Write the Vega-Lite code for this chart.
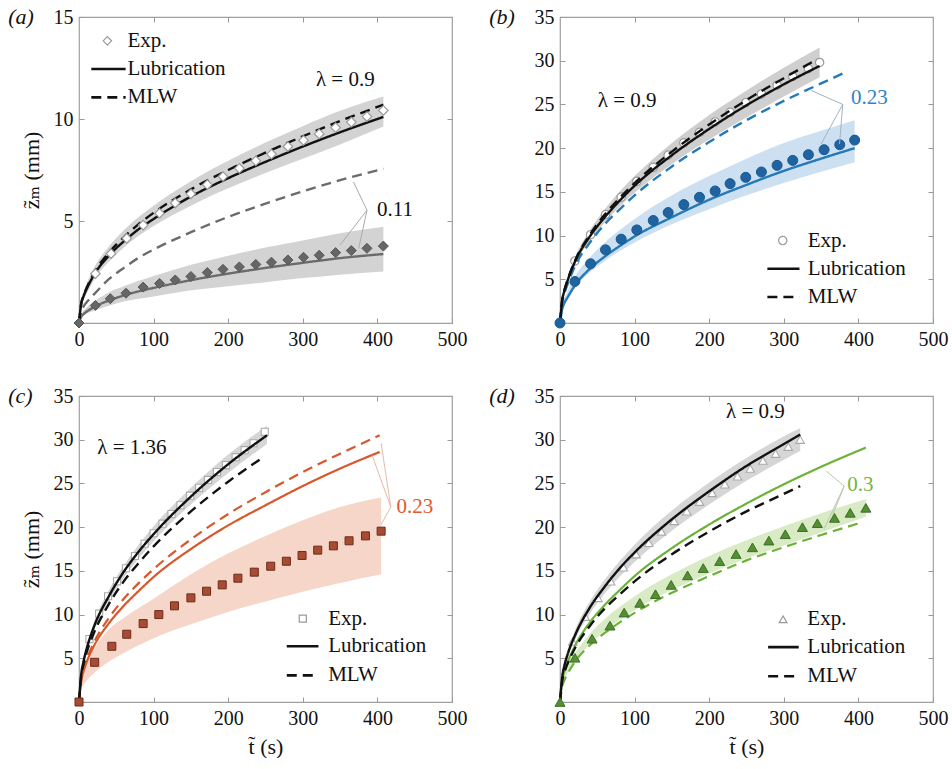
{
"$schema":"https://vega.github.io/schema/vega-lite/v6.json",
"autosize":{"type":"pad"},
"padding":{"left":7,"top":5,"right":0,"bottom":0},
"background":"white",
"columns":2,
"spacing":{"row":73,"column":108},
"bounds":"flush",
"config":{
 "view":{"stroke":"#a0a0a0","strokeWidth":1.2},
 "font":"Times New Roman, Liberation Serif, DejaVu Serif, Times, serif",
 "axis":{"domain":false,"grid":false,"ticks":true,"tickSize":-5,"tickColor":"#999","tickWidth":1,"labelFont":"Times New Roman, Liberation Serif, DejaVu Serif, Times, serif","labelFontSize":20,"labelColor":"#111","labelPadding":11,"labelFlush":false,"labelOverlap":false,"titleFont":"Times New Roman, Liberation Serif, DejaVu Serif, Times, serif","titleFontSize":22,"titleFontWeight":"normal","titleColor":"#111"},
 "text":{"font":"Times New Roman, Liberation Serif, DejaVu Serif, Times, serif","fontSize":21},
 "line":{"interpolate":"monotone"},
 "area":{"interpolate":"monotone"}
},
"datasets":{
"ln":[
{"p":"a","l":"0.9","m":"Lub","t":0,"z":0},{"p":"a","l":"0.9","m":"Lub","t":3,"z":0.95},{"p":"a","l":"0.9","m":"Lub","t":6,"z":1.3},{"p":"a","l":"0.9","m":"Lub","t":10,"z":1.65},{"p":"a","l":"0.9","m":"Lub","t":20,"z":2.35},{"p":"a","l":"0.9","m":"Lub","t":40,"z":3.3},{"p":"a","l":"0.9","m":"Lub","t":60,"z":4.0},{"p":"a","l":"0.9","m":"Lub","t":80,"z":4.6},{"p":"a","l":"0.9","m":"Lub","t":100,"z":5.1},{"p":"a","l":"0.9","m":"Lub","t":150,"z":6.2},{"p":"a","l":"0.9","m":"Lub","t":200,"z":7.1},{"p":"a","l":"0.9","m":"Lub","t":250,"z":7.9},{"p":"a","l":"0.9","m":"Lub","t":300,"z":8.65},{"p":"a","l":"0.9","m":"Lub","t":350,"z":9.35},{"p":"a","l":"0.9","m":"Lub","t":408,"z":10.1},
{"p":"a","l":"0.9","m":"MLW","t":0,"z":0},{"p":"a","l":"0.9","m":"MLW","t":3,"z":0.95},{"p":"a","l":"0.9","m":"MLW","t":6,"z":1.32},{"p":"a","l":"0.9","m":"MLW","t":10,"z":1.7},{"p":"a","l":"0.9","m":"MLW","t":20,"z":2.45},{"p":"a","l":"0.9","m":"MLW","t":40,"z":3.45},{"p":"a","l":"0.9","m":"MLW","t":60,"z":4.2},{"p":"a","l":"0.9","m":"MLW","t":80,"z":4.85},{"p":"a","l":"0.9","m":"MLW","t":100,"z":5.4},{"p":"a","l":"0.9","m":"MLW","t":150,"z":6.55},{"p":"a","l":"0.9","m":"MLW","t":200,"z":7.5},{"p":"a","l":"0.9","m":"MLW","t":250,"z":8.35},{"p":"a","l":"0.9","m":"MLW","t":300,"z":9.15},{"p":"a","l":"0.9","m":"MLW","t":350,"z":9.9},{"p":"a","l":"0.9","m":"MLW","t":408,"z":10.7},
{"p":"a","l":"0.11","m":"Lub","t":0,"z":0},{"p":"a","l":"0.11","m":"Lub","t":3,"z":0.3},{"p":"a","l":"0.11","m":"Lub","t":6,"z":0.43},{"p":"a","l":"0.11","m":"Lub","t":10,"z":0.55},{"p":"a","l":"0.11","m":"Lub","t":20,"z":0.78},{"p":"a","l":"0.11","m":"Lub","t":40,"z":1.1},{"p":"a","l":"0.11","m":"Lub","t":60,"z":1.35},{"p":"a","l":"0.11","m":"Lub","t":80,"z":1.55},{"p":"a","l":"0.11","m":"Lub","t":100,"z":1.72},{"p":"a","l":"0.11","m":"Lub","t":150,"z":2.1},{"p":"a","l":"0.11","m":"Lub","t":200,"z":2.42},{"p":"a","l":"0.11","m":"Lub","t":250,"z":2.7},{"p":"a","l":"0.11","m":"Lub","t":300,"z":2.95},{"p":"a","l":"0.11","m":"Lub","t":350,"z":3.18},{"p":"a","l":"0.11","m":"Lub","t":408,"z":3.38},
{"p":"a","l":"0.11","m":"MLW","t":0,"z":0},{"p":"a","l":"0.11","m":"MLW","t":3,"z":0.55},{"p":"a","l":"0.11","m":"MLW","t":6,"z":0.8},{"p":"a","l":"0.11","m":"MLW","t":10,"z":1.0},{"p":"a","l":"0.11","m":"MLW","t":20,"z":1.4},{"p":"a","l":"0.11","m":"MLW","t":40,"z":2.15},{"p":"a","l":"0.11","m":"MLW","t":60,"z":2.7},{"p":"a","l":"0.11","m":"MLW","t":80,"z":3.2},{"p":"a","l":"0.11","m":"MLW","t":100,"z":3.6},{"p":"a","l":"0.11","m":"MLW","t":150,"z":4.45},{"p":"a","l":"0.11","m":"MLW","t":200,"z":5.2},{"p":"a","l":"0.11","m":"MLW","t":250,"z":5.85},{"p":"a","l":"0.11","m":"MLW","t":300,"z":6.45},{"p":"a","l":"0.11","m":"MLW","t":350,"z":7.0},{"p":"a","l":"0.11","m":"MLW","t":408,"z":7.56},
{"p":"b","l":"0.9","m":"Lub","t":0,"z":0},{"p":"b","l":"0.9","m":"Lub","t":3,"z":2.6},{"p":"b","l":"0.9","m":"Lub","t":6,"z":3.7},{"p":"b","l":"0.9","m":"Lub","t":10,"z":4.8},{"p":"b","l":"0.9","m":"Lub","t":20,"z":7.0},{"p":"b","l":"0.9","m":"Lub","t":40,"z":9.9},{"p":"b","l":"0.9","m":"Lub","t":60,"z":12.1},{"p":"b","l":"0.9","m":"Lub","t":80,"z":14.0},{"p":"b","l":"0.9","m":"Lub","t":100,"z":15.7},{"p":"b","l":"0.9","m":"Lub","t":150,"z":19.2},{"p":"b","l":"0.9","m":"Lub","t":200,"z":22.2},{"p":"b","l":"0.9","m":"Lub","t":250,"z":24.9},{"p":"b","l":"0.9","m":"Lub","t":300,"z":27.3},{"p":"b","l":"0.9","m":"Lub","t":348,"z":29.4},
{"p":"b","l":"0.9","m":"MLW","t":0,"z":0},{"p":"b","l":"0.9","m":"MLW","t":3,"z":2.7},{"p":"b","l":"0.9","m":"MLW","t":6,"z":3.8},{"p":"b","l":"0.9","m":"MLW","t":10,"z":4.9},{"p":"b","l":"0.9","m":"MLW","t":20,"z":7.1},{"p":"b","l":"0.9","m":"MLW","t":40,"z":10.1},{"p":"b","l":"0.9","m":"MLW","t":60,"z":12.4},{"p":"b","l":"0.9","m":"MLW","t":80,"z":14.3},{"p":"b","l":"0.9","m":"MLW","t":100,"z":16.0},{"p":"b","l":"0.9","m":"MLW","t":150,"z":19.6},{"p":"b","l":"0.9","m":"MLW","t":200,"z":22.7},{"p":"b","l":"0.9","m":"MLW","t":250,"z":25.5},{"p":"b","l":"0.9","m":"MLW","t":300,"z":28.0},{"p":"b","l":"0.9","m":"MLW","t":341,"z":30.0},
{"p":"b","l":"0.23","m":"Lub","t":0,"z":0},{"p":"b","l":"0.23","m":"Lub","t":3,"z":1.6},{"p":"b","l":"0.23","m":"Lub","t":6,"z":2.3},{"p":"b","l":"0.23","m":"Lub","t":10,"z":2.9},{"p":"b","l":"0.23","m":"Lub","t":20,"z":4.3},{"p":"b","l":"0.23","m":"Lub","t":40,"z":6.2},{"p":"b","l":"0.23","m":"Lub","t":60,"z":7.6},{"p":"b","l":"0.23","m":"Lub","t":80,"z":8.8},{"p":"b","l":"0.23","m":"Lub","t":100,"z":9.9},{"p":"b","l":"0.23","m":"Lub","t":150,"z":12.1},{"p":"b","l":"0.23","m":"Lub","t":200,"z":14.1},{"p":"b","l":"0.23","m":"Lub","t":250,"z":15.8},{"p":"b","l":"0.23","m":"Lub","t":300,"z":17.4},{"p":"b","l":"0.23","m":"Lub","t":350,"z":18.8},{"p":"b","l":"0.23","m":"Lub","t":395,"z":20.0},
{"p":"b","l":"0.23","m":"MLW","t":0,"z":0},{"p":"b","l":"0.23","m":"MLW","t":3,"z":2.4},{"p":"b","l":"0.23","m":"MLW","t":6,"z":3.4},{"p":"b","l":"0.23","m":"MLW","t":10,"z":4.4},{"p":"b","l":"0.23","m":"MLW","t":20,"z":6.5},{"p":"b","l":"0.23","m":"MLW","t":40,"z":9.2},{"p":"b","l":"0.23","m":"MLW","t":60,"z":11.3},{"p":"b","l":"0.23","m":"MLW","t":80,"z":13.0},{"p":"b","l":"0.23","m":"MLW","t":100,"z":14.6},{"p":"b","l":"0.23","m":"MLW","t":150,"z":17.9},{"p":"b","l":"0.23","m":"MLW","t":200,"z":20.7},{"p":"b","l":"0.23","m":"MLW","t":250,"z":23.2},{"p":"b","l":"0.23","m":"MLW","t":300,"z":25.4},{"p":"b","l":"0.23","m":"MLW","t":350,"z":27.4},{"p":"b","l":"0.23","m":"MLW","t":386,"z":28.8},
{"p":"c","l":"1.36","m":"Lub","t":0,"z":0},{"p":"c","l":"1.36","m":"Lub","t":3,"z":3.2},{"p":"c","l":"1.36","m":"Lub","t":6,"z":4.6},{"p":"c","l":"1.36","m":"Lub","t":10,"z":6.0},{"p":"c","l":"1.36","m":"Lub","t":20,"z":8.6},{"p":"c","l":"1.36","m":"Lub","t":40,"z":12.1},{"p":"c","l":"1.36","m":"Lub","t":60,"z":14.9},{"p":"c","l":"1.36","m":"Lub","t":80,"z":17.2},{"p":"c","l":"1.36","m":"Lub","t":100,"z":19.2},{"p":"c","l":"1.36","m":"Lub","t":150,"z":23.5},{"p":"c","l":"1.36","m":"Lub","t":200,"z":27.2},{"p":"c","l":"1.36","m":"Lub","t":252,"z":30.5},
{"p":"c","l":"1.36","m":"MLW","t":0,"z":0},{"p":"c","l":"1.36","m":"MLW","t":3,"z":3.0},{"p":"c","l":"1.36","m":"MLW","t":6,"z":4.3},{"p":"c","l":"1.36","m":"MLW","t":10,"z":5.6},{"p":"c","l":"1.36","m":"MLW","t":20,"z":7.9},{"p":"c","l":"1.36","m":"MLW","t":40,"z":11.2},{"p":"c","l":"1.36","m":"MLW","t":60,"z":13.8},{"p":"c","l":"1.36","m":"MLW","t":80,"z":15.9},{"p":"c","l":"1.36","m":"MLW","t":100,"z":17.8},{"p":"c","l":"1.36","m":"MLW","t":150,"z":21.8},{"p":"c","l":"1.36","m":"MLW","t":200,"z":25.2},{"p":"c","l":"1.36","m":"MLW","t":247,"z":28.0},
{"p":"c","l":"0.23","m":"Lub","t":0,"z":0},{"p":"c","l":"0.23","m":"Lub","t":3,"z":2.4},{"p":"c","l":"0.23","m":"Lub","t":6,"z":3.5},{"p":"c","l":"0.23","m":"Lub","t":10,"z":4.5},{"p":"c","l":"0.23","m":"Lub","t":20,"z":6.4},{"p":"c","l":"0.23","m":"Lub","t":40,"z":9.0},{"p":"c","l":"0.23","m":"Lub","t":60,"z":11.0},{"p":"c","l":"0.23","m":"Lub","t":80,"z":12.7},{"p":"c","l":"0.23","m":"Lub","t":100,"z":14.3},{"p":"c","l":"0.23","m":"Lub","t":150,"z":17.5},{"p":"c","l":"0.23","m":"Lub","t":200,"z":20.2},{"p":"c","l":"0.23","m":"Lub","t":250,"z":22.5},{"p":"c","l":"0.23","m":"Lub","t":300,"z":24.7},{"p":"c","l":"0.23","m":"Lub","t":350,"z":26.7},{"p":"c","l":"0.23","m":"Lub","t":403,"z":28.6},
{"p":"c","l":"0.23","m":"MLW","t":0,"z":0},{"p":"c","l":"0.23","m":"MLW","t":3,"z":2.6},{"p":"c","l":"0.23","m":"MLW","t":6,"z":3.7},{"p":"c","l":"0.23","m":"MLW","t":10,"z":4.8},{"p":"c","l":"0.23","m":"MLW","t":20,"z":6.8},{"p":"c","l":"0.23","m":"MLW","t":40,"z":9.6},{"p":"c","l":"0.23","m":"MLW","t":60,"z":11.8},{"p":"c","l":"0.23","m":"MLW","t":80,"z":13.6},{"p":"c","l":"0.23","m":"MLW","t":100,"z":15.2},{"p":"c","l":"0.23","m":"MLW","t":150,"z":18.6},{"p":"c","l":"0.23","m":"MLW","t":200,"z":21.5},{"p":"c","l":"0.23","m":"MLW","t":250,"z":24.0},{"p":"c","l":"0.23","m":"MLW","t":300,"z":26.3},{"p":"c","l":"0.23","m":"MLW","t":350,"z":28.4},{"p":"c","l":"0.23","m":"MLW","t":403,"z":30.5},
{"p":"d","l":"0.9","m":"Lub","t":0,"z":0},{"p":"d","l":"0.9","m":"Lub","t":3,"z":2.9},{"p":"d","l":"0.9","m":"Lub","t":6,"z":4.2},{"p":"d","l":"0.9","m":"Lub","t":10,"z":5.4},{"p":"d","l":"0.9","m":"Lub","t":20,"z":7.6},{"p":"d","l":"0.9","m":"Lub","t":40,"z":10.8},{"p":"d","l":"0.9","m":"Lub","t":60,"z":13.2},{"p":"d","l":"0.9","m":"Lub","t":80,"z":15.3},{"p":"d","l":"0.9","m":"Lub","t":100,"z":17.1},{"p":"d","l":"0.9","m":"Lub","t":150,"z":20.9},{"p":"d","l":"0.9","m":"Lub","t":200,"z":24.1},{"p":"d","l":"0.9","m":"Lub","t":250,"z":27.0},{"p":"d","l":"0.9","m":"Lub","t":300,"z":29.5},{"p":"d","l":"0.9","m":"Lub","t":322,"z":30.6},
{"p":"d","l":"0.9","m":"MLW","t":0,"z":0},{"p":"d","l":"0.9","m":"MLW","t":3,"z":2.4},{"p":"d","l":"0.9","m":"MLW","t":6,"z":3.4},{"p":"d","l":"0.9","m":"MLW","t":10,"z":4.35},{"p":"d","l":"0.9","m":"MLW","t":20,"z":6.15},{"p":"d","l":"0.9","m":"MLW","t":40,"z":8.7},{"p":"d","l":"0.9","m":"MLW","t":60,"z":10.7},{"p":"d","l":"0.9","m":"MLW","t":80,"z":12.3},{"p":"d","l":"0.9","m":"MLW","t":100,"z":13.8},{"p":"d","l":"0.9","m":"MLW","t":150,"z":16.9},{"p":"d","l":"0.9","m":"MLW","t":200,"z":19.5},{"p":"d","l":"0.9","m":"MLW","t":250,"z":21.8},{"p":"d","l":"0.9","m":"MLW","t":300,"z":23.8},{"p":"d","l":"0.9","m":"MLW","t":322,"z":24.7},
{"p":"d","l":"0.3","m":"Lub","t":0,"z":0},{"p":"d","l":"0.3","m":"Lub","t":3,"z":2.5},{"p":"d","l":"0.3","m":"Lub","t":6,"z":3.5},{"p":"d","l":"0.3","m":"Lub","t":10,"z":4.5},{"p":"d","l":"0.3","m":"Lub","t":20,"z":6.4},{"p":"d","l":"0.3","m":"Lub","t":40,"z":9.1},{"p":"d","l":"0.3","m":"Lub","t":60,"z":11.1},{"p":"d","l":"0.3","m":"Lub","t":80,"z":12.8},{"p":"d","l":"0.3","m":"Lub","t":100,"z":14.4},{"p":"d","l":"0.3","m":"Lub","t":150,"z":17.6},{"p":"d","l":"0.3","m":"Lub","t":200,"z":20.3},{"p":"d","l":"0.3","m":"Lub","t":250,"z":22.7},{"p":"d","l":"0.3","m":"Lub","t":300,"z":24.9},{"p":"d","l":"0.3","m":"Lub","t":350,"z":26.9},{"p":"d","l":"0.3","m":"Lub","t":410,"z":29.1},
{"p":"d","l":"0.3","m":"MLW","t":0,"z":0},{"p":"d","l":"0.3","m":"MLW","t":3,"z":1.8},{"p":"d","l":"0.3","m":"MLW","t":6,"z":2.5},{"p":"d","l":"0.3","m":"MLW","t":10,"z":3.2},{"p":"d","l":"0.3","m":"MLW","t":20,"z":4.6},{"p":"d","l":"0.3","m":"MLW","t":40,"z":6.5},{"p":"d","l":"0.3","m":"MLW","t":60,"z":7.9},{"p":"d","l":"0.3","m":"MLW","t":80,"z":9.1},{"p":"d","l":"0.3","m":"MLW","t":100,"z":10.2},{"p":"d","l":"0.3","m":"MLW","t":150,"z":12.5},{"p":"d","l":"0.3","m":"MLW","t":200,"z":14.4},{"p":"d","l":"0.3","m":"MLW","t":250,"z":16.2},{"p":"d","l":"0.3","m":"MLW","t":300,"z":17.7},{"p":"d","l":"0.3","m":"MLW","t":350,"z":19.1},{"p":"d","l":"0.3","m":"MLW","t":399,"z":20.4}
],
"bd":[
{"p":"a","l":"0.9","t":0,"lo":0,"hi":0},{"p":"a","l":"0.9","t":3,"lo":0.8,"hi":1.1},{"p":"a","l":"0.9","t":10,"lo":1.4,"hi":1.9},{"p":"a","l":"0.9","t":20,"lo":2.1,"hi":2.7},{"p":"a","l":"0.9","t":40,"lo":3.0,"hi":3.75},{"p":"a","l":"0.9","t":60,"lo":3.7,"hi":4.55},{"p":"a","l":"0.9","t":100,"lo":4.75,"hi":5.75},{"p":"a","l":"0.9","t":150,"lo":5.75,"hi":6.95},{"p":"a","l":"0.9","t":200,"lo":6.6,"hi":7.95},{"p":"a","l":"0.9","t":250,"lo":7.35,"hi":8.85},{"p":"a","l":"0.9","t":300,"lo":8.05,"hi":9.65},{"p":"a","l":"0.9","t":350,"lo":8.75,"hi":10.4},{"p":"a","l":"0.9","t":408,"lo":9.63,"hi":11.1},
{"p":"a","l":"0.11","t":0,"lo":0,"hi":0},{"p":"a","l":"0.11","t":3,"lo":0.25,"hi":0.4},{"p":"a","l":"0.11","t":10,"lo":0.45,"hi":0.75},{"p":"a","l":"0.11","t":20,"lo":0.6,"hi":1.05},{"p":"a","l":"0.11","t":40,"lo":0.85,"hi":1.5},{"p":"a","l":"0.11","t":60,"lo":1.05,"hi":1.8},{"p":"a","l":"0.11","t":100,"lo":1.3,"hi":2.3},{"p":"a","l":"0.11","t":150,"lo":1.6,"hi":2.85},{"p":"a","l":"0.11","t":200,"lo":1.8,"hi":3.3},{"p":"a","l":"0.11","t":250,"lo":2.0,"hi":3.7},{"p":"a","l":"0.11","t":300,"lo":2.2,"hi":4.05},{"p":"a","l":"0.11","t":350,"lo":2.37,"hi":4.4},{"p":"a","l":"0.11","t":408,"lo":2.52,"hi":4.72},
{"p":"b","l":"0.9","t":0,"lo":0,"hi":0},{"p":"b","l":"0.9","t":3,"lo":2.3,"hi":2.9},{"p":"b","l":"0.9","t":10,"lo":4.5,"hi":5.2},{"p":"b","l":"0.9","t":20,"lo":6.6,"hi":7.5},{"p":"b","l":"0.9","t":40,"lo":9.4,"hi":10.6},{"p":"b","l":"0.9","t":60,"lo":11.5,"hi":13.0},{"p":"b","l":"0.9","t":100,"lo":14.9,"hi":16.8},{"p":"b","l":"0.9","t":150,"lo":18.2,"hi":20.6},{"p":"b","l":"0.9","t":200,"lo":21.0,"hi":23.8},{"p":"b","l":"0.9","t":250,"lo":23.5,"hi":26.6},{"p":"b","l":"0.9","t":300,"lo":25.9,"hi":29.2},{"p":"b","l":"0.9","t":348,"lo":28.1,"hi":31.5},
{"p":"b","l":"0.23","t":0,"lo":0,"hi":0},{"p":"b","l":"0.23","t":3,"lo":1.4,"hi":1.9},{"p":"b","l":"0.23","t":10,"lo":2.7,"hi":3.6},{"p":"b","l":"0.23","t":20,"lo":4.0,"hi":5.3},{"p":"b","l":"0.23","t":40,"lo":5.8,"hi":7.5},{"p":"b","l":"0.23","t":60,"lo":7.1,"hi":9.2},{"p":"b","l":"0.23","t":100,"lo":9.2,"hi":11.9},{"p":"b","l":"0.23","t":150,"lo":11.3,"hi":14.6},{"p":"b","l":"0.23","t":200,"lo":13.0,"hi":16.8},{"p":"b","l":"0.23","t":250,"lo":14.6,"hi":18.8},{"p":"b","l":"0.23","t":300,"lo":16.0,"hi":20.6},{"p":"b","l":"0.23","t":350,"lo":17.3,"hi":22.0},{"p":"b","l":"0.23","t":395,"lo":18.4,"hi":23.2},
{"p":"c","l":"1.36","t":0,"lo":0,"hi":0},{"p":"c","l":"1.36","t":3,"lo":2.8,"hi":3.6},{"p":"c","l":"1.36","t":10,"lo":5.6,"hi":6.4},{"p":"c","l":"1.36","t":20,"lo":8.1,"hi":9.1},{"p":"c","l":"1.36","t":40,"lo":11.5,"hi":12.8},{"p":"c","l":"1.36","t":60,"lo":14.2,"hi":15.6},{"p":"c","l":"1.36","t":100,"lo":18.4,"hi":20.1},{"p":"c","l":"1.36","t":150,"lo":22.6,"hi":24.5},{"p":"c","l":"1.36","t":200,"lo":26.2,"hi":28.3},{"p":"c","l":"1.36","t":252,"lo":29.5,"hi":31.6},
{"p":"c","l":"0.23","t":0,"lo":0,"hi":0},{"p":"c","l":"0.23","t":3,"lo":1.4,"hi":2.4},{"p":"c","l":"0.23","t":10,"lo":2.4,"hi":4.3},{"p":"c","l":"0.23","t":20,"lo":3.3,"hi":6.0},{"p":"c","l":"0.23","t":40,"lo":4.6,"hi":8.3},{"p":"c","l":"0.23","t":60,"lo":5.6,"hi":9.6},{"p":"c","l":"0.23","t":100,"lo":7.3,"hi":11.8},{"p":"c","l":"0.23","t":150,"lo":8.9,"hi":14.6},{"p":"c","l":"0.23","t":200,"lo":10.3,"hi":17.0},{"p":"c","l":"0.23","t":250,"lo":11.5,"hi":19.0},{"p":"c","l":"0.23","t":300,"lo":12.6,"hi":20.8},{"p":"c","l":"0.23","t":350,"lo":13.6,"hi":22.3},{"p":"c","l":"0.23","t":405,"lo":14.6,"hi":23.4},
{"p":"d","l":"0.9","t":0,"lo":0,"hi":0},{"p":"d","l":"0.9","t":3,"lo":2.6,"hi":3.1},{"p":"d","l":"0.9","t":10,"lo":5.0,"hi":5.8},{"p":"d","l":"0.9","t":20,"lo":7.1,"hi":8.2},{"p":"d","l":"0.9","t":40,"lo":10.1,"hi":11.5},{"p":"d","l":"0.9","t":60,"lo":12.4,"hi":14.0},{"p":"d","l":"0.9","t":100,"lo":16.0,"hi":18.0},{"p":"d","l":"0.9","t":150,"lo":19.6,"hi":21.9},{"p":"d","l":"0.9","t":200,"lo":22.6,"hi":25.1},{"p":"d","l":"0.9","t":250,"lo":25.3,"hi":27.9},{"p":"d","l":"0.9","t":300,"lo":27.7,"hi":30.4},{"p":"d","l":"0.9","t":322,"lo":28.7,"hi":31.3},
{"p":"d","l":"0.3","t":0,"lo":0,"hi":0},{"p":"d","l":"0.3","t":3,"lo":1.9,"hi":2.6},{"p":"d","l":"0.3","t":10,"lo":3.3,"hi":4.4},{"p":"d","l":"0.3","t":20,"lo":4.6,"hi":5.6},{"p":"d","l":"0.3","t":40,"lo":6.6,"hi":7.8},{"p":"d","l":"0.3","t":60,"lo":8.1,"hi":9.5},{"p":"d","l":"0.3","t":100,"lo":10.5,"hi":12.1},{"p":"d","l":"0.3","t":150,"lo":12.8,"hi":14.6},{"p":"d","l":"0.3","t":200,"lo":14.7,"hi":16.7},{"p":"d","l":"0.3","t":250,"lo":16.4,"hi":18.5},{"p":"d","l":"0.3","t":300,"lo":17.9,"hi":20.1},{"p":"d","l":"0.3","t":350,"lo":19.4,"hi":21.6},{"p":"d","l":"0.3","t":410,"lo":21.2,"hi":23.2}
],
"pt":[
{"p":"a","l":"0.9","t":22,"z":2.42},{"p":"a","l":"0.9","t":43,"z":3.4},{"p":"a","l":"0.9","t":64,"z":4.15},{"p":"a","l":"0.9","t":86,"z":4.8},{"p":"a","l":"0.9","t":108,"z":5.38},{"p":"a","l":"0.9","t":129,"z":5.88},{"p":"a","l":"0.9","t":150,"z":6.33},{"p":"a","l":"0.9","t":172,"z":6.78},{"p":"a","l":"0.9","t":193,"z":7.18},{"p":"a","l":"0.9","t":215,"z":7.58},{"p":"a","l":"0.9","t":237,"z":7.95},{"p":"a","l":"0.9","t":258,"z":8.28},{"p":"a","l":"0.9","t":280,"z":8.65},{"p":"a","l":"0.9","t":301,"z":8.95},{"p":"a","l":"0.9","t":322,"z":9.27},{"p":"a","l":"0.9","t":344,"z":9.58},{"p":"a","l":"0.9","t":365,"z":9.85},{"p":"a","l":"0.9","t":386,"z":10.12},{"p":"a","l":"0.9","t":408,"z":10.42},
{"p":"a","l":"0.11","t":0,"z":0},{"p":"a","l":"0.11","t":22,"z":0.86},{"p":"a","l":"0.11","t":42,"z":1.19},{"p":"a","l":"0.11","t":63,"z":1.46},{"p":"a","l":"0.11","t":86,"z":1.76},{"p":"a","l":"0.11","t":108,"z":1.94},{"p":"a","l":"0.11","t":129,"z":2.11},{"p":"a","l":"0.11","t":150,"z":2.28},{"p":"a","l":"0.11","t":172,"z":2.47},{"p":"a","l":"0.11","t":193,"z":2.63},{"p":"a","l":"0.11","t":215,"z":2.75},{"p":"a","l":"0.11","t":237,"z":2.87},{"p":"a","l":"0.11","t":258,"z":2.98},{"p":"a","l":"0.11","t":280,"z":3.09},{"p":"a","l":"0.11","t":301,"z":3.22},{"p":"a","l":"0.11","t":322,"z":3.32},{"p":"a","l":"0.11","t":344,"z":3.45},{"p":"a","l":"0.11","t":365,"z":3.55},{"p":"a","l":"0.11","t":386,"z":3.66},{"p":"a","l":"0.11","t":408,"z":3.77},
{"p":"b","l":"0.9","t":20,"z":7.1},{"p":"b","l":"0.9","t":41,"z":10.1},{"p":"b","l":"0.9","t":61,"z":12.4},{"p":"b","l":"0.9","t":82,"z":14.4},{"p":"b","l":"0.9","t":103,"z":16.2},{"p":"b","l":"0.9","t":125,"z":17.8},{"p":"b","l":"0.9","t":145,"z":19.2},{"p":"b","l":"0.9","t":166,"z":20.6},{"p":"b","l":"0.9","t":187,"z":21.8},{"p":"b","l":"0.9","t":208,"z":23.0},{"p":"b","l":"0.9","t":228,"z":24.1},{"p":"b","l":"0.9","t":249,"z":25.2},{"p":"b","l":"0.9","t":270,"z":26.2},{"p":"b","l":"0.9","t":291,"z":27.2},{"p":"b","l":"0.9","t":312,"z":28.2},{"p":"b","l":"0.9","t":333,"z":29.1},{"p":"b","l":"0.9","t":348,"z":29.8},
{"p":"b","l":"0.23","t":0,"z":0},{"p":"b","l":"0.23","t":20,"z":4.75},{"p":"b","l":"0.23","t":41,"z":6.77},{"p":"b","l":"0.23","t":61,"z":8.37},{"p":"b","l":"0.23","t":82,"z":9.59},{"p":"b","l":"0.23","t":103,"z":10.65},{"p":"b","l":"0.23","t":125,"z":11.72},{"p":"b","l":"0.23","t":145,"z":12.63},{"p":"b","l":"0.23","t":166,"z":13.54},{"p":"b","l":"0.23","t":187,"z":14.38},{"p":"b","l":"0.23","t":208,"z":15.1},{"p":"b","l":"0.23","t":228,"z":15.94},{"p":"b","l":"0.23","t":249,"z":16.66},{"p":"b","l":"0.23","t":270,"z":17.27},{"p":"b","l":"0.23","t":291,"z":18.03},{"p":"b","l":"0.23","t":312,"z":18.6},{"p":"b","l":"0.23","t":333,"z":19.25},{"p":"b","l":"0.23","t":354,"z":19.82},{"p":"b","l":"0.23","t":375,"z":20.39},{"p":"b","l":"0.23","t":395,"z":20.92},
{"p":"c","l":"1.36","t":14,"z":7.2},{"p":"c","l":"1.36","t":27,"z":10.1},{"p":"c","l":"1.36","t":39,"z":12.1},{"p":"c","l":"1.36","t":51,"z":13.8},{"p":"c","l":"1.36","t":63,"z":15.3},{"p":"c","l":"1.36","t":75,"z":16.7},{"p":"c","l":"1.36","t":88,"z":18.1},{"p":"c","l":"1.36","t":100,"z":19.3},{"p":"c","l":"1.36","t":112,"z":20.4},{"p":"c","l":"1.36","t":124,"z":21.5},{"p":"c","l":"1.36","t":136,"z":22.5},{"p":"c","l":"1.36","t":149,"z":23.6},{"p":"c","l":"1.36","t":161,"z":24.5},{"p":"c","l":"1.36","t":173,"z":25.4},{"p":"c","l":"1.36","t":185,"z":26.3},{"p":"c","l":"1.36","t":197,"z":27.1},{"p":"c","l":"1.36","t":210,"z":28.0},{"p":"c","l":"1.36","t":222,"z":28.8},{"p":"c","l":"1.36","t":234,"z":29.6},{"p":"c","l":"1.36","t":249,"z":30.9},
{"p":"c","l":"0.23","t":0,"z":0},{"p":"c","l":"0.23","t":21,"z":4.54},{"p":"c","l":"0.23","t":44,"z":6.37},{"p":"c","l":"0.23","t":64,"z":7.75},{"p":"c","l":"0.23","t":86,"z":8.97},{"p":"c","l":"0.23","t":107,"z":10.0},{"p":"c","l":"0.23","t":128,"z":11.0},{"p":"c","l":"0.23","t":150,"z":11.91},{"p":"c","l":"0.23","t":171,"z":12.67},{"p":"c","l":"0.23","t":192,"z":13.4},{"p":"c","l":"0.23","t":213,"z":14.16},{"p":"c","l":"0.23","t":235,"z":14.85},{"p":"c","l":"0.23","t":257,"z":15.53},{"p":"c","l":"0.23","t":278,"z":16.1},{"p":"c","l":"0.23","t":299,"z":16.76},{"p":"c","l":"0.23","t":320,"z":17.37},{"p":"c","l":"0.23","t":341,"z":17.86},{"p":"c","l":"0.23","t":362,"z":18.44},{"p":"c","l":"0.23","t":384,"z":19.0},{"p":"c","l":"0.23","t":405,"z":19.54},
{"p":"d","l":"0.9","t":17,"z":6.9},{"p":"d","l":"0.9","t":34,"z":9.75},{"p":"d","l":"0.9","t":51,"z":11.9},{"p":"d","l":"0.9","t":68,"z":13.8},{"p":"d","l":"0.9","t":85,"z":15.4},{"p":"d","l":"0.9","t":102,"z":16.9},{"p":"d","l":"0.9","t":119,"z":18.2},{"p":"d","l":"0.9","t":136,"z":19.5},{"p":"d","l":"0.9","t":153,"z":20.7},{"p":"d","l":"0.9","t":170,"z":21.8},{"p":"d","l":"0.9","t":187,"z":22.9},{"p":"d","l":"0.9","t":204,"z":23.9},{"p":"d","l":"0.9","t":221,"z":24.9},{"p":"d","l":"0.9","t":238,"z":25.8},{"p":"d","l":"0.9","t":255,"z":26.7},{"p":"d","l":"0.9","t":272,"z":27.6},{"p":"d","l":"0.9","t":289,"z":28.4},{"p":"d","l":"0.9","t":306,"z":29.2},{"p":"d","l":"0.9","t":322,"z":30.0},
{"p":"d","l":"0.3","t":0,"z":0},{"p":"d","l":"0.3","t":20,"z":5.06},{"p":"d","l":"0.3","t":43,"z":7.24},{"p":"d","l":"0.3","t":67,"z":8.73},{"p":"d","l":"0.3","t":86,"z":10.23},{"p":"d","l":"0.3","t":107,"z":11.34},{"p":"d","l":"0.3","t":128,"z":12.33},{"p":"d","l":"0.3","t":149,"z":13.4},{"p":"d","l":"0.3","t":171,"z":14.48},{"p":"d","l":"0.3","t":192,"z":15.32},{"p":"d","l":"0.3","t":214,"z":16.12},{"p":"d","l":"0.3","t":236,"z":16.93},{"p":"d","l":"0.3","t":258,"z":17.69},{"p":"d","l":"0.3","t":280,"z":18.46},{"p":"d","l":"0.3","t":302,"z":19.19},{"p":"d","l":"0.3","t":325,"z":20.0},{"p":"d","l":"0.3","t":345,"z":20.45},{"p":"d","l":"0.3","t":368,"z":21.06},{"p":"d","l":"0.3","t":389,"z":21.64},{"p":"d","l":"0.3","t":410,"z":22.21}
],
"nt":[
{"p":"a","k":"tag","txt":"(a)","t":-95,"z":15},{"p":"a","k":"lam","txt":"λ = 0.9","t":357,"z":11.9},{"p":"a","k":"val","txt":"0.11","t":399.5,"z":5.53},
{"p":"b","k":"tag","txt":"(b)","t":-95,"z":35},{"p":"b","k":"lam","txt":"λ = 0.9","t":90,"z":25.4},{"p":"b","k":"val","txt":"0.23","t":390,"z":25.7},
{"p":"c","k":"tag","txt":"(c)","t":-95,"z":35},{"p":"c","k":"lam","txt":"λ = 1.36","t":71,"z":29.0},{"p":"c","k":"val","txt":"0.23","t":425.6,"z":22.3},
{"p":"d","k":"tag","txt":"(d)","t":-95,"z":35},{"p":"d","k":"lam","txt":"λ = 0.9","t":262,"z":33.2},{"p":"d","k":"val","txt":"0.3","t":385,"z":24.8}
],
"ld":[
{"p":"a","t":386,"z":5.53,"t2":368,"z2":6.91},{"p":"a","t":386,"z":5.53,"t2":350,"z2":3.82},{"p":"a","t":386,"z":5.53,"t2":375,"z2":3.66},
{"p":"b","t":379,"z":25.0,"t2":336.6,"z2":26.6},{"p":"b","t":379,"z":25.0,"t2":350,"z2":20.46},{"p":"b","t":379,"z":25.0,"t2":374.7,"z2":20.46},
{"p":"c","t":418,"z":22.3,"t2":405,"z2":29.6},{"p":"c","t":418,"z":22.3,"t2":393,"z2":28.2},{"p":"c","t":418,"z":22.3,"t2":405,"z2":20.3},
{"p":"d","t":381,"z":24.7,"t2":357,"z2":26.4},{"p":"d","t":381,"z":24.7,"t2":354,"z2":19.8},{"p":"d","t":381,"z":24.7,"t2":365,"z2":21.3}
],
"lg":[
{"p":"a","m":"Lub","t":16.5,"t2":62.5,"z":12.45},{"p":"a","m":"MLW","t":16.5,"t2":62.5,"z":11.06},
{"p":"b","m":"Lub","t":278,"t2":321,"z":6.2},{"p":"b","m":"MLW","t":278,"t2":321,"z":2.97},
{"p":"c","m":"Lub","t":278.5,"t2":321,"z":6.37},{"p":"c","m":"MLW","t":278.5,"t2":321,"z":3.05},
{"p":"d","m":"Lub","t":279,"t2":320,"z":6.28},{"p":"d","m":"MLW","t":279,"t2":320,"z":2.95}
],
"ls":[
{"p":"a","t":38,"z":13.83},{"p":"b","t":298.6,"z":9.43},{"p":"c","t":300,"z":9.54},{"p":"d","t":299,"z":9.46}
],
"lt":[
{"p":"a","txt":"Exp.","t":65,"z":13.83},{"p":"a","txt":"Lubrication","t":65,"z":12.45},{"p":"a","txt":"MLW","t":65,"z":11.06},
{"p":"b","txt":"Exp.","t":332,"z":9.43},{"p":"b","txt":"Lubrication","t":332,"z":6.2},{"p":"b","txt":"MLW","t":332,"z":2.97},
{"p":"c","txt":"Exp.","t":334,"z":9.54},{"p":"c","txt":"Lubrication","t":334,"z":6.37},{"p":"c","txt":"MLW","t":334,"z":3.05},
{"p":"d","txt":"Exp.","t":331.5,"z":9.46},{"p":"d","txt":"Lubrication","t":331.5,"z":6.28},{"p":"d","txt":"MLW","t":331.5,"z":2.95}
]
},
"concat":[
{
"width":373,"height":306,
"resolve":{"axis":{"x":"independent","y":"independent"}},
"encoding":{
 "x":{"field":"t","type":"quantitative","scale":{"domain":[0,500],"nice":false,"zero":false},"axis":null},
 "y":{"field":"z","type":"quantitative","scale":{"domain":[0,15],"nice":false,"zero":false},"axis":null}
},
"layer":[
 {"data":{"name":"bd"},"transform":[{"filter":"datum.p=='a'&&datum.l=='0.9'"}],"mark":{"type":"area","color":"#d3d3d3"},
  "encoding":{"x":{"field":"t","type":"quantitative","scale":{"domain":[0,500],"nice":false,"zero":false},"axis":{"orient":"bottom","values":[0,100,200,300,400,500],"title":null}},
   "y":{"field":"lo","type":"quantitative","scale":{"domain":[0,15],"nice":false,"zero":false},"axis":{"orient":"left","values":[0,5,10,15],"labelExpr":"datum.value==0?'':datum.label","title":"z̃ₘ (mm)","titlePadding":10}},
   "y2":{"field":"hi"}}},
 {"data":{"name":"bd"},"transform":[{"filter":"datum.p=='a'&&datum.l=='0.11'"}],"mark":{"type":"area","color":"#d3d3d3"},
  "encoding":{"x":{"field":"t","type":"quantitative","axis":{"orient":"top","values":[100,200,300,400],"labels":false,"title":null}},
   "y":{"field":"lo","type":"quantitative","axis":{"orient":"right","values":[5,10],"labels":false,"title":null}},
   "y2":{"field":"hi"}}},
 {"data":{"name":"ln"},"transform":[{"filter":"datum.p=='a'&&datum.l=='0.11'"}],"mark":{"type":"line","color":"#6b6b6b","strokeWidth":2.4},
  "encoding":{"strokeDash":{"field":"m","type":"nominal","scale":{"domain":["Lub","MLW"],"range":[[1,0],[10,6]]},"legend":null}}},
 {"data":{"name":"ln"},"transform":[{"filter":"datum.p=='a'&&datum.l=='0.9'"}],"mark":{"type":"line","color":"#111","strokeWidth":2.4},
  "encoding":{"strokeDash":{"field":"m","type":"nominal","scale":{"domain":["Lub","MLW"],"range":[[1,0],[10,6]]},"legend":null}}},
 {"data":{"name":"pt"},"transform":[{"filter":"datum.p=='a'&&datum.l=='0.9'"}],"mark":{"type":"point","shape":"diamond","size":90,"filled":true,"fill":"white","stroke":"#999","strokeWidth":1.2,"opacity":1}},
 {"data":{"name":"pt"},"transform":[{"filter":"datum.p=='a'&&datum.l=='0.11'"}],"mark":{"type":"point","shape":"diamond","size":100,"filled":true,"fill":"#666","stroke":"#555","strokeWidth":1,"opacity":1}},
 {"data":{"name":"ld"},"transform":[{"filter":"datum.p=='a'"}],"mark":{"type":"rule","color":"#aaa","strokeWidth":1},
  "encoding":{"x2":{"field":"t2"},"y2":{"field":"z2"}}},
 {"data":{"name":"nt"},"transform":[{"filter":"datum.p=='a'&&datum.k=='lam'"}],"mark":{"type":"text","align":"center","baseline":"middle","color":"#111"},"encoding":{"text":{"field":"txt"}}},
 {"data":{"name":"nt"},"transform":[{"filter":"datum.p=='a'&&datum.k=='val'"}],"mark":{"type":"text","align":"left","baseline":"middle","color":"#111"},"encoding":{"text":{"field":"txt"}}},
 {"data":{"name":"nt"},"transform":[{"filter":"datum.p=='a'&&datum.k=='tag'"}],"mark":{"type":"text","align":"left","baseline":"middle","color":"#111","fontSize":22,"fontStyle":"italic"},"encoding":{"text":{"field":"txt"}}},
 {"data":{"name":"ls"},"transform":[{"filter":"datum.p=='a'"}],"mark":{"type":"point","shape":"diamond","size":70,"filled":true,"fill":"white","stroke":"#999","strokeWidth":1.2,"opacity":1}},
 {"data":{"name":"lg"},"transform":[{"filter":"datum.p=='a'"}],"mark":{"type":"rule","color":"#111","strokeWidth":2.6},
  "encoding":{"x2":{"field":"t2"},"strokeDash":{"field":"m","type":"nominal","scale":{"domain":["Lub","MLW"],"range":[[1,0],[10,6]]},"legend":null}}},
 {"data":{"name":"lt"},"transform":[{"filter":"datum.p=='a'"}],"mark":{"type":"text","align":"left","baseline":"middle","color":"#111"},"encoding":{"text":{"field":"txt"}}}
]
},
{
"width":373,"height":306,
"resolve":{"axis":{"x":"independent","y":"independent"}},
"encoding":{
 "x":{"field":"t","type":"quantitative","scale":{"domain":[0,500],"nice":false,"zero":false},"axis":null},
 "y":{"field":"z","type":"quantitative","scale":{"domain":[0,35],"nice":false,"zero":false},"axis":null}
},
"layer":[
 {"data":{"name":"bd"},"transform":[{"filter":"datum.p=='b'&&datum.l=='0.9'"}],"mark":{"type":"area","color":"#cfcfcf"},
  "encoding":{"x":{"field":"t","type":"quantitative","scale":{"domain":[0,500],"nice":false,"zero":false},"axis":{"orient":"bottom","values":[0,100,200,300,400,500],"title":null}},
   "y":{"field":"lo","type":"quantitative","scale":{"domain":[0,35],"nice":false,"zero":false},"axis":{"orient":"left","values":[0,5,10,15,20,25,30,35],"labelExpr":"datum.value==0?'':datum.label","title":null}},
   "y2":{"field":"hi"}}},
 {"data":{"name":"bd"},"transform":[{"filter":"datum.p=='b'&&datum.l=='0.23'"}],"mark":{"type":"area","color":"#cde0f2"},
  "encoding":{"x":{"field":"t","type":"quantitative","axis":{"orient":"top","values":[100,200,300,400],"labels":false,"title":null}},
   "y":{"field":"lo","type":"quantitative","axis":{"orient":"right","values":[5,10,15,20,25,30],"labels":false,"title":null}},
   "y2":{"field":"hi"}}},
 {"data":{"name":"pt"},"transform":[{"filter":"datum.p=='b'&&datum.l=='0.9'"}],"mark":{"type":"point","shape":"circle","size":70,"filled":true,"fill":"white","stroke":"#999","strokeWidth":1.2,"opacity":1}},
 {"data":{"name":"ln"},"transform":[{"filter":"datum.p=='b'&&datum.l=='0.23'"}],"mark":{"type":"line","color":"#2479b8","strokeWidth":2.4},
  "encoding":{"strokeDash":{"field":"m","type":"nominal","scale":{"domain":["Lub","MLW"],"range":[[1,0],[10,6]]},"legend":null}}},
 {"data":{"name":"ln"},"transform":[{"filter":"datum.p=='b'&&datum.l=='0.9'"}],"mark":{"type":"line","color":"#111","strokeWidth":2.4},
  "encoding":{"strokeDash":{"field":"m","type":"nominal","scale":{"domain":["Lub","MLW"],"range":[[1,0],[10,6]]},"legend":null}}},
 {"data":{"name":"pt"},"transform":[{"filter":"datum.p=='b'&&datum.l=='0.23'"}],"mark":{"type":"point","shape":"circle","size":100,"filled":true,"fill":"#1f64a0","stroke":"#1a5890","strokeWidth":1,"opacity":1}},
 {"data":{"name":"ld"},"transform":[{"filter":"datum.p=='b'"}],"mark":{"type":"rule","color":"#9fb3c2","strokeWidth":1},
  "encoding":{"x2":{"field":"t2"},"y2":{"field":"z2"}}},
 {"data":{"name":"nt"},"transform":[{"filter":"datum.p=='b'&&datum.k=='lam'"}],"mark":{"type":"text","align":"center","baseline":"middle","color":"#111"},"encoding":{"text":{"field":"txt"}}},
 {"data":{"name":"nt"},"transform":[{"filter":"datum.p=='b'&&datum.k=='val'"}],"mark":{"type":"text","align":"left","baseline":"middle","color":"#2a86c8"},"encoding":{"text":{"field":"txt"}}},
 {"data":{"name":"nt"},"transform":[{"filter":"datum.p=='b'&&datum.k=='tag'"}],"mark":{"type":"text","align":"left","baseline":"middle","color":"#111","fontSize":22,"fontStyle":"italic"},"encoding":{"text":{"field":"txt"}}},
 {"data":{"name":"ls"},"transform":[{"filter":"datum.p=='b'"}],"mark":{"type":"point","shape":"circle","size":70,"filled":true,"fill":"white","stroke":"#999","strokeWidth":1.2,"opacity":1}},
 {"data":{"name":"lg"},"transform":[{"filter":"datum.p=='b'"}],"mark":{"type":"rule","color":"#111","strokeWidth":2.6},
  "encoding":{"x2":{"field":"t2"},"strokeDash":{"field":"m","type":"nominal","scale":{"domain":["Lub","MLW"],"range":[[1,0],[10,6]]},"legend":null}}},
 {"data":{"name":"lt"},"transform":[{"filter":"datum.p=='b'"}],"mark":{"type":"text","align":"left","baseline":"middle","color":"#111"},"encoding":{"text":{"field":"txt"}}}
]
},
{
"width":373,"height":306,
"resolve":{"axis":{"x":"independent","y":"independent"}},
"encoding":{
 "x":{"field":"t","type":"quantitative","scale":{"domain":[0,500],"nice":false,"zero":false},"axis":null},
 "y":{"field":"z","type":"quantitative","scale":{"domain":[0,35],"nice":false,"zero":false},"axis":null}
},
"layer":[
 {"data":{"name":"bd"},"transform":[{"filter":"datum.p=='c'&&datum.l=='1.36'"}],"mark":{"type":"area","color":"#d6d6d6"},
  "encoding":{"x":{"field":"t","type":"quantitative","scale":{"domain":[0,500],"nice":false,"zero":false},"axis":{"orient":"bottom","values":[0,100,200,300,400,500],"title":"t̃ (s)","titlePadding":8}},
   "y":{"field":"lo","type":"quantitative","scale":{"domain":[0,35],"nice":false,"zero":false},"axis":{"orient":"left","values":[0,5,10,15,20,25,30,35],"labelExpr":"datum.value==0?'':datum.label","title":"z̃ₘ (mm)","titlePadding":10}},
   "y2":{"field":"hi"}}},
 {"data":{"name":"bd"},"transform":[{"filter":"datum.p=='c'&&datum.l=='0.23'"}],"mark":{"type":"area","color":"#f6d6c9"},
  "encoding":{"x":{"field":"t","type":"quantitative","axis":{"orient":"top","values":[100,200,300,400],"labels":false,"title":null}},
   "y":{"field":"lo","type":"quantitative","axis":{"orient":"right","values":[5,10,15,20,25,30],"labels":false,"title":null}},
   "y2":{"field":"hi"}}},
 {"data":{"name":"pt"},"transform":[{"filter":"datum.p=='c'&&datum.l=='1.36'"}],"mark":{"type":"point","shape":"square","size":50,"filled":true,"fill":"white","stroke":"#aaa","strokeWidth":1.1,"opacity":1}},
 {"data":{"name":"ln"},"transform":[{"filter":"datum.p=='c'&&datum.l=='0.23'"}],"mark":{"type":"line","color":"#d6582c","strokeWidth":2.2},
  "encoding":{"strokeDash":{"field":"m","type":"nominal","scale":{"domain":["Lub","MLW"],"range":[[1,0],[10,6]]},"legend":null}}},
 {"data":{"name":"ln"},"transform":[{"filter":"datum.p=='c'&&datum.l=='1.36'"}],"mark":{"type":"line","color":"#111","strokeWidth":2.4},
  "encoding":{"strokeDash":{"field":"m","type":"nominal","scale":{"domain":["Lub","MLW"],"range":[[1,0],[10,6]]},"legend":null}}},
 {"data":{"name":"pt"},"transform":[{"filter":"datum.p=='c'&&datum.l=='0.23'"}],"mark":{"type":"point","shape":"square","size":64,"filled":true,"fill":"#a84b33","stroke":"#6d2b1b","strokeWidth":1,"opacity":1}},
 {"data":{"name":"ld"},"transform":[{"filter":"datum.p=='c'"}],"mark":{"type":"rule","color":"#e6b9a8","strokeWidth":1},
  "encoding":{"x2":{"field":"t2"},"y2":{"field":"z2"}}},
 {"data":{"name":"nt"},"transform":[{"filter":"datum.p=='c'&&datum.k=='lam'"}],"mark":{"type":"text","align":"center","baseline":"middle","color":"#111"},"encoding":{"text":{"field":"txt"}}},
 {"data":{"name":"nt"},"transform":[{"filter":"datum.p=='c'&&datum.k=='val'"}],"mark":{"type":"text","align":"left","baseline":"middle","color":"#e2582b"},"encoding":{"text":{"field":"txt"}}},
 {"data":{"name":"nt"},"transform":[{"filter":"datum.p=='c'&&datum.k=='tag'"}],"mark":{"type":"text","align":"left","baseline":"middle","color":"#111","fontSize":22,"fontStyle":"italic"},"encoding":{"text":{"field":"txt"}}},
 {"data":{"name":"ls"},"transform":[{"filter":"datum.p=='c'"}],"mark":{"type":"point","shape":"square","size":50,"filled":true,"fill":"white","stroke":"#999","strokeWidth":1.2,"opacity":1}},
 {"data":{"name":"lg"},"transform":[{"filter":"datum.p=='c'"}],"mark":{"type":"rule","color":"#111","strokeWidth":2.6},
  "encoding":{"x2":{"field":"t2"},"strokeDash":{"field":"m","type":"nominal","scale":{"domain":["Lub","MLW"],"range":[[1,0],[10,6]]},"legend":null}}},
 {"data":{"name":"lt"},"transform":[{"filter":"datum.p=='c'"}],"mark":{"type":"text","align":"left","baseline":"middle","color":"#111"},"encoding":{"text":{"field":"txt"}}}
]
},
{
"width":373,"height":306,
"resolve":{"axis":{"x":"independent","y":"independent"}},
"encoding":{
 "x":{"field":"t","type":"quantitative","scale":{"domain":[0,500],"nice":false,"zero":false},"axis":null},
 "y":{"field":"z","type":"quantitative","scale":{"domain":[0,35],"nice":false,"zero":false},"axis":null}
},
"layer":[
 {"data":{"name":"bd"},"transform":[{"filter":"datum.p=='d'&&datum.l=='0.9'"}],"mark":{"type":"area","color":"#d6d6d6"},
  "encoding":{"x":{"field":"t","type":"quantitative","scale":{"domain":[0,500],"nice":false,"zero":false},"axis":{"orient":"bottom","values":[0,100,200,300,400,500],"title":"t̃ (s)","titlePadding":8}},
   "y":{"field":"lo","type":"quantitative","scale":{"domain":[0,35],"nice":false,"zero":false},"axis":{"orient":"left","values":[0,5,10,15,20,25,30,35],"labelExpr":"datum.value==0?'':datum.label","title":null}},
   "y2":{"field":"hi"}}},
 {"data":{"name":"bd"},"transform":[{"filter":"datum.p=='d'&&datum.l=='0.3'"}],"mark":{"type":"area","color":"#d8ebc5"},
  "encoding":{"x":{"field":"t","type":"quantitative","axis":{"orient":"top","values":[100,200,300,400],"labels":false,"title":null}},
   "y":{"field":"lo","type":"quantitative","axis":{"orient":"right","values":[5,10,15,20,25,30],"labels":false,"title":null}},
   "y2":{"field":"hi"}}},
 {"data":{"name":"pt"},"transform":[{"filter":"datum.p=='d'&&datum.l=='0.9'"}],"mark":{"type":"point","shape":"triangle-up","size":70,"filled":true,"fill":"white","stroke":"#aaa","strokeWidth":1.1,"opacity":1}},
 {"data":{"name":"ln"},"transform":[{"filter":"datum.p=='d'&&datum.l=='0.3'"}],"mark":{"type":"line","color":"#6db238","strokeWidth":2.2},
  "encoding":{"strokeDash":{"field":"m","type":"nominal","scale":{"domain":["Lub","MLW"],"range":[[1,0],[10,6]]},"legend":null}}},
 {"data":{"name":"ln"},"transform":[{"filter":"datum.p=='d'&&datum.l=='0.9'"}],"mark":{"type":"line","color":"#111","strokeWidth":2.4},
  "encoding":{"strokeDash":{"field":"m","type":"nominal","scale":{"domain":["Lub","MLW"],"range":[[1,0],[10,6]]},"legend":null}}},
 {"data":{"name":"pt"},"transform":[{"filter":"datum.p=='d'&&datum.l=='0.3'"}],"mark":{"type":"point","shape":"triangle-up","size":100,"filled":true,"fill":"#548f33","stroke":"#3e6e25","strokeWidth":1,"opacity":1}},
 {"data":{"name":"ld"},"transform":[{"filter":"datum.p=='d'"}],"mark":{"type":"rule","color":"#b9c8ab","strokeWidth":1},
  "encoding":{"x2":{"field":"t2"},"y2":{"field":"z2"}}},
 {"data":{"name":"nt"},"transform":[{"filter":"datum.p=='d'&&datum.k=='lam'"}],"mark":{"type":"text","align":"center","baseline":"middle","color":"#111"},"encoding":{"text":{"field":"txt"}}},
 {"data":{"name":"nt"},"transform":[{"filter":"datum.p=='d'&&datum.k=='val'"}],"mark":{"type":"text","align":"left","baseline":"middle","color":"#75b53c"},"encoding":{"text":{"field":"txt"}}},
 {"data":{"name":"nt"},"transform":[{"filter":"datum.p=='d'&&datum.k=='tag'"}],"mark":{"type":"text","align":"left","baseline":"middle","color":"#111","fontSize":22,"fontStyle":"italic"},"encoding":{"text":{"field":"txt"}}},
 {"data":{"name":"ls"},"transform":[{"filter":"datum.p=='d'"}],"mark":{"type":"point","shape":"triangle-up","size":60,"filled":true,"fill":"white","stroke":"#999","strokeWidth":1.2,"opacity":1}},
 {"data":{"name":"lg"},"transform":[{"filter":"datum.p=='d'"}],"mark":{"type":"rule","color":"#111","strokeWidth":2.6},
  "encoding":{"x2":{"field":"t2"},"strokeDash":{"field":"m","type":"nominal","scale":{"domain":["Lub","MLW"],"range":[[1,0],[10,6]]},"legend":null}}},
 {"data":{"name":"lt"},"transform":[{"filter":"datum.p=='d'"}],"mark":{"type":"text","align":"left","baseline":"middle","color":"#111"},"encoding":{"text":{"field":"txt"}}}
]
}
]
}
